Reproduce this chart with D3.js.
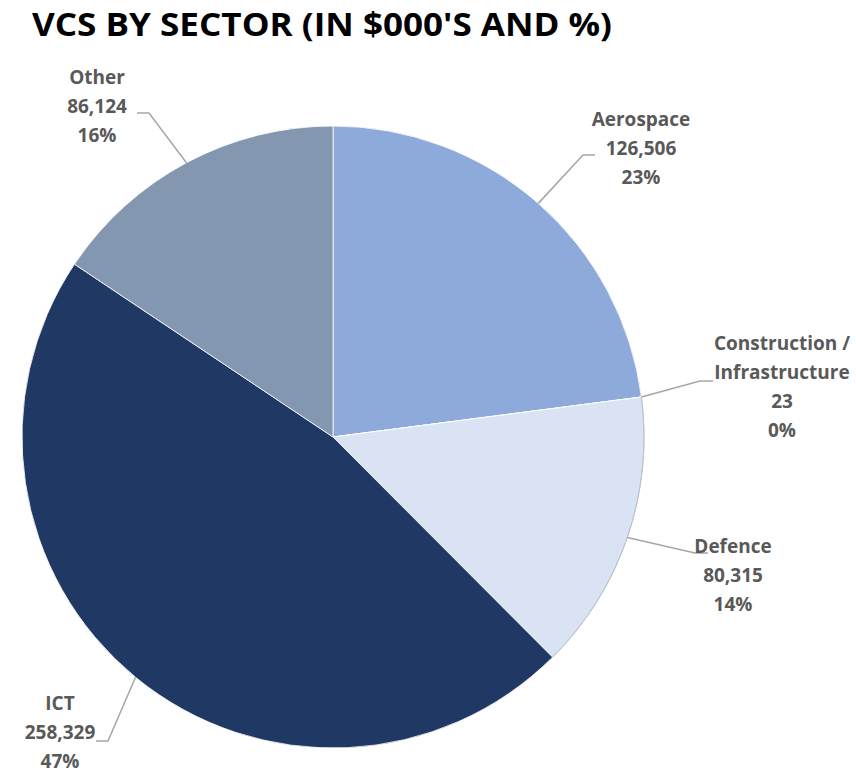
<html>
<head>
  <meta charset="utf-8" />
  <script src="https://cdnjs.cloudflare.com/ajax/libs/d3/7.8.5/d3.min.js"></script>
  <style>
    body { margin: 0; background: #fff; }
    text { font-family: "Open Sans", Lato, sans-serif; font-weight: bold; }
  </style>
</head>
<body>
  <svg></svg>
  <script>
  // data
  const sectors = ["Aerospace", "Construction / Infrastructure", "Defence", "ICT", "Other"]
  const values  = [126506, 23, 80315, 258329, 86124]
  const shares  = ["23%", "0%", "14%", "47%", "16%"]
  const colours = ["#8eaadb", "#8eaadb", "#dae3f3", "#203864", "#8497b0"]

  // label layout: text centre, first line y, elbow of leader, leader end
  const labelLayout = [
    { x: 641, y: 126, lines: ["Aerospace"], elbow: [583, 155], end: [595, 155] },
    { x: 782, y: 350, lines: ["Construction /", "Infrastructure"], elbow: [700, 381], end: [713, 381] },
    { x: 733, y: 553, lines: ["Defence"], elbow: [695, 553], end: [708, 553] },
    { x: 60,  y: 710, lines: ["ICT"], elbow: [108, 741], end: [96, 741] },
    { x: 97,  y: 84,  lines: ["Other"], elbow: [149, 113], end: [137, 113] }
  ]

  const width = 856, height = 774
  const cx = 333, cy = 437, r = 311

  const svg = d3.select("svg").attr("width", width).attr("height", height)

  svg.append("text")
    .attr("x", 32).attr("y", 36)
    .attr("font-family", "Lato, sans-serif")
    .attr("font-size", 33)
    .attr("fill", "#000")
    .attr("textLength", 580)
    .attr("lengthAdjust", "spacingAndGlyphs")
    .text("VCS BY SECTOR (IN $000'S AND %)")

  const pie = d3.pie().sort(null).value(d => d)
  const arcs = pie(values)
  const arc = d3.arc().innerRadius(0).outerRadius(r)

  const g = svg.append("g").attr("transform", `translate(${cx},${cy})`)

  g.selectAll("path.slice")
    .data(arcs)
    .enter()
    .append("path")
      .attr("class", "slice")
      .attr("d", arc)
      .attr("fill", (d, i) => colours[i])
      .attr("stroke", "#ffffff")
      .attr("stroke-width", 0.8)

  // thin outline on the pale slice as in the original
  g.append("path")
    .attr("d", d3.arc().innerRadius(r).outerRadius(r).startAngle(arcs[2].startAngle).endAngle(arcs[2].endAngle)())
    .attr("fill", "none")
    .attr("stroke", "#b8c2d2")
    .attr("stroke-width", 1)

  // leader lines
  arcs.forEach((d, i) => {
    const a = (d.startAngle + d.endAngle) / 2
    const px = cx + r * Math.sin(a), py = cy - r * Math.cos(a)
    const L = labelLayout[i]
    svg.append("polyline")
      .attr("points", [[px, py], L.elbow, L.end].map(p => p.join(",")).join(" "))
      .attr("fill", "none")
      .attr("stroke", "#a6a6a6")
      .attr("stroke-width", 1.5)
  })

  // labels
  const fmt = d3.format(",")
  labelLayout.forEach((L, i) => {
    const lines = L.lines.concat([fmt(values[i]), shares[i]])
    const t = svg.append("text")
      .attr("text-anchor", "middle")
      .attr("font-size", 19)
      .attr("fill", "#595959")
    lines.forEach((s, k) => {
      t.append("tspan").attr("x", L.x).attr("y", L.y + k * 29).text(s)
    })
  })
  </script>
</body>
</html>
